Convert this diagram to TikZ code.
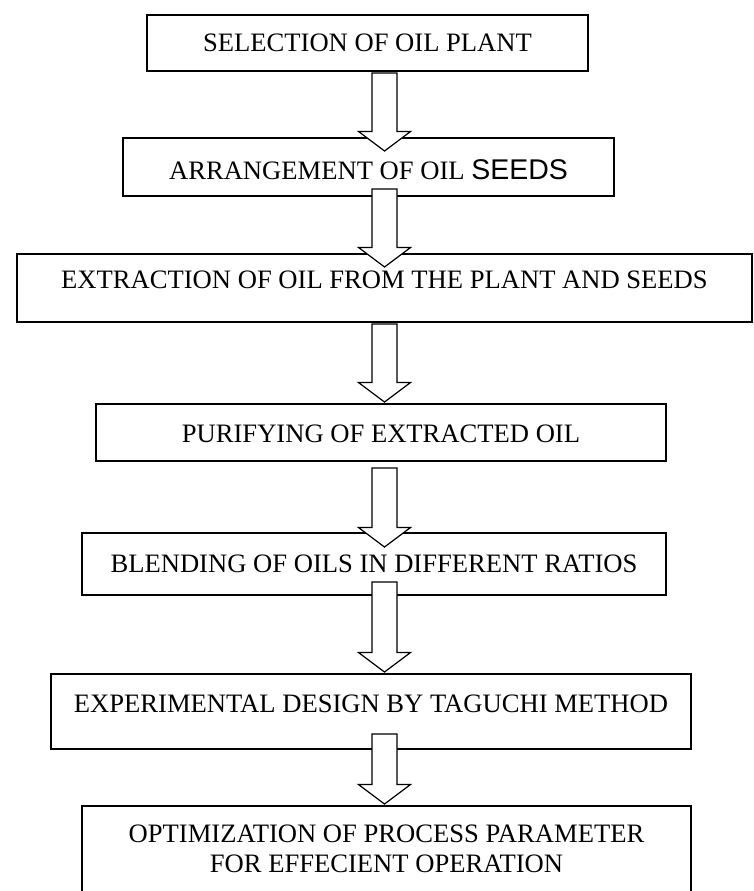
\documentclass[tikz,border=0pt]{standalone}
\usepackage{fontspec}
\setmainfont{Liberation Serif}
\newfontfamily\seedsfont{Liberation Sans}
\usetikzlibrary{positioning,calc}
\tikzset{
  stepbox/.style={draw,fill=white,line width=1.2pt,inner sep=0pt,outer sep=0pt,
                  font=\fontsize{26.6}{30}\selectfont,align=center},
  blockarr/.style={draw,fill=white,line width=1.2pt,line join=miter},
}
\newcommand{\flowarrow}[4]{%
  \filldraw[blockarr] let \p1=($(#1.south -| spine)+(0,#2)$),
                          \p2=($(#3.north -| spine)+(0,#4)$) in
    (\x1-12.5pt,\y1) -- (\x1+12.5pt,\y1) -- (\x1+12.5pt,\y2+19.5pt)
    -- (\x1+26pt,\y2+19.5pt) -- (\x2,\y2) -- (\x1-26pt,\y2+19.5pt)
    -- (\x1-12.5pt,\y2+19.5pt) -- cycle;}

\begin{document}
\begin{tikzpicture}[x=1pt,y=1pt]
\useasboundingbox (0,0) rectangle (753,-891);
\coordinate (spine) at (384.5,0);

\node[stepbox,anchor=north,minimum width=441pt,text height=37pt,text depth=19pt] (select) at (367.5,-15) {SELECTION OF OIL PLANT};
\node[stepbox,below=67pt of select,xshift=1pt,minimum width=491pt,text height=41pt,text depth=17pt] (arrange) {ARRANGEMENT OF OIL {\seedsfont\fontsize{28.5}{30}\selectfont SEEDS}};
\node[stepbox,below=58pt of arrange,xshift=16pt,minimum width=735pt,text height=34pt,text depth=34pt] (extract) {EXTRACTION OF OIL FROM THE PLANT AND SEEDS};
\node[stepbox,below=82pt of extract,xshift=-3.5pt,minimum width=570pt,text height=38pt,text depth=19pt] (purify) {PURIFYING OF EXTRACTED OIL};
\node[stepbox,below=72pt of purify,xshift=-7pt,minimum width=584pt,text height=39pt,text depth=23pt] (blend) {BLENDING OF OILS IN DIFFERENT RATIOS};
\node[stepbox,below=79pt of blend,xshift=-3pt,minimum width=640pt,text height=38pt,text depth=37pt] (design) {EXPERIMENTAL DESIGN BY TAGUCHI METHOD};
\node[stepbox,below=57pt of design,xshift=15.5pt,minimum width=609pt,text height=66pt,text depth=40pt] (optim) {OPTIMIZATION OF PROCESS PARAMETER\\FOR EFFECIENT OPERATION};

\flowarrow{select}{-2}{arrange}{-13}
\flowarrow{arrange}{7}{extract}{-13}
\flowarrow{extract}{-2}{purify}{2}
\flowarrow{purify}{-7}{blend}{-14}
\flowarrow{blend}{13}{design}{2}
\flowarrow{design}{15}{optim}{2}
\end{tikzpicture}
\end{document}
